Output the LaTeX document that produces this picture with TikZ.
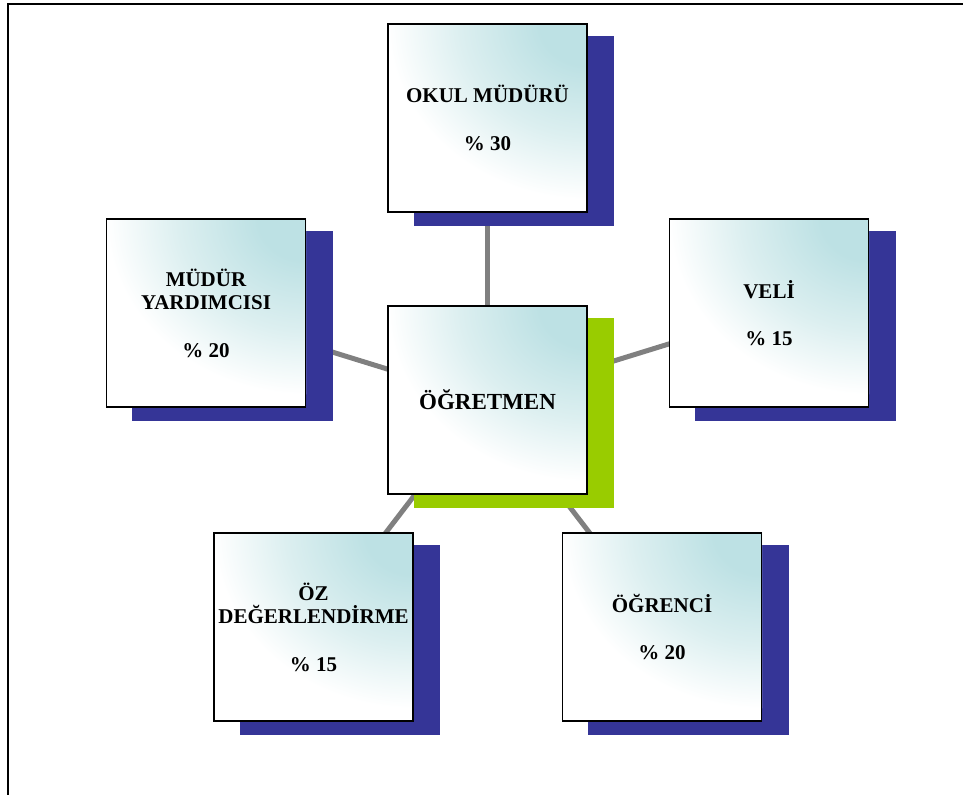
\documentclass[tikz,border=0pt]{standalone}
\usepackage{fontspec}
\setmainfont{Liberation Serif}

\definecolor{shadownavy}{RGB}{53,53,151}
\definecolor{shadowgreen}{RGB}{153,204,0}
\definecolor{glowteal}{RGB}{189,225,228}
\definecolor{glowhalf}{RGB}{220,239,240}
\definecolor{linkgray}{RGB}{128,128,128}

% teal glow that spreads from a corner and fades to white
\pgfdeclareradialshading{cornerglow}{\pgfpoint{0bp}{0bp}}{%
  color(0bp)=(glowteal); color(6bp)=(glowteal);
  color(16bp)=(glowhalf); color(25bp)=(white); color(50bp)=(white)}

\pgfdeclarelayer{links}
\pgfdeclarelayer{shadows}
\pgfdeclarelayer{glow}
\pgfsetlayers{links,shadows,glow,main}

\tikzset{
  card/.style={draw=black, line width=1.1pt,
    minimum width=149pt, minimum height=141pt, inner sep=0pt,
    align=center, font=\fontsize{15.75}{17.8}\selectfont\bfseries},
  hubcard/.style={card, font=\fontsize{17.25}{20}\selectfont\bfseries},
  link/.style={draw=linkgray, line width=3.75pt},
  frame/.style={draw=black, line width=1.5pt}
}

\begin{document}
\begin{tikzpicture}[x=0.75pt, y=-0.75pt]
  \useasboundingbox (0,0) rectangle (963,794);
  \draw[frame] (8,796) -- (8,4) -- (965,4);

  % cards
  \node[hubcard] (hub) at (487.5,400) {ÖĞRETMEN};
  \node[card] (okul) at (487.5,118) {OKUL MÜDÜRÜ\\[17.8pt]\% 30};
  \node[card] (yard) at (206,313) {MÜDÜR\\YARDIMCISI\\[17.8pt]\% 20};
  \node[card] (veli) at (769,313) {VELİ\\[17.8pt]\% 15};
  \node[card] (oz) at (313.5,627) {ÖZ\\DEĞERLENDİRME\\[17.8pt]\% 15};
  \node[card] (ogr) at (662,627) {ÖĞRENCİ\\[17.8pt]\% 20};

  % card faces: white with a teal glow from the upper right corner
  \begin{pgfonlayer}{glow}
    \foreach \n in {hub, okul, yard, veli, oz, ogr} {
      \begin{scope}
        \clip (\n.south west) rectangle (\n.north east);
        \fill[white] (\n.south west) rectangle (\n.north east);
        \shade[shading=cornerglow] (\n.north east)
          ellipse[x radius=150pt, y radius=132pt];
      \end{scope}
    }
  \end{pgfonlayer}

  % offset shadows behind the cards
  \begin{pgfonlayer}{shadows}
    \foreach \n/\c in {hub/shadowgreen, okul/shadownavy, yard/shadownavy,
                       veli/shadownavy, oz/shadownavy, ogr/shadownavy}
      \fill[\c] ([xshift=19.9pt,yshift=-9.75pt]\n.south west)
        rectangle ([xshift=19.9pt,yshift=-9.75pt]\n.north east);
  \end{pgfonlayer}

  % connectors from the hub to every card
  \begin{pgfonlayer}{links}
    \foreach \n in {okul, yard, veli, oz, ogr}
      \draw[link] (hub.center) -- (\n.center);
  \end{pgfonlayer}
\end{tikzpicture}
\end{document}
